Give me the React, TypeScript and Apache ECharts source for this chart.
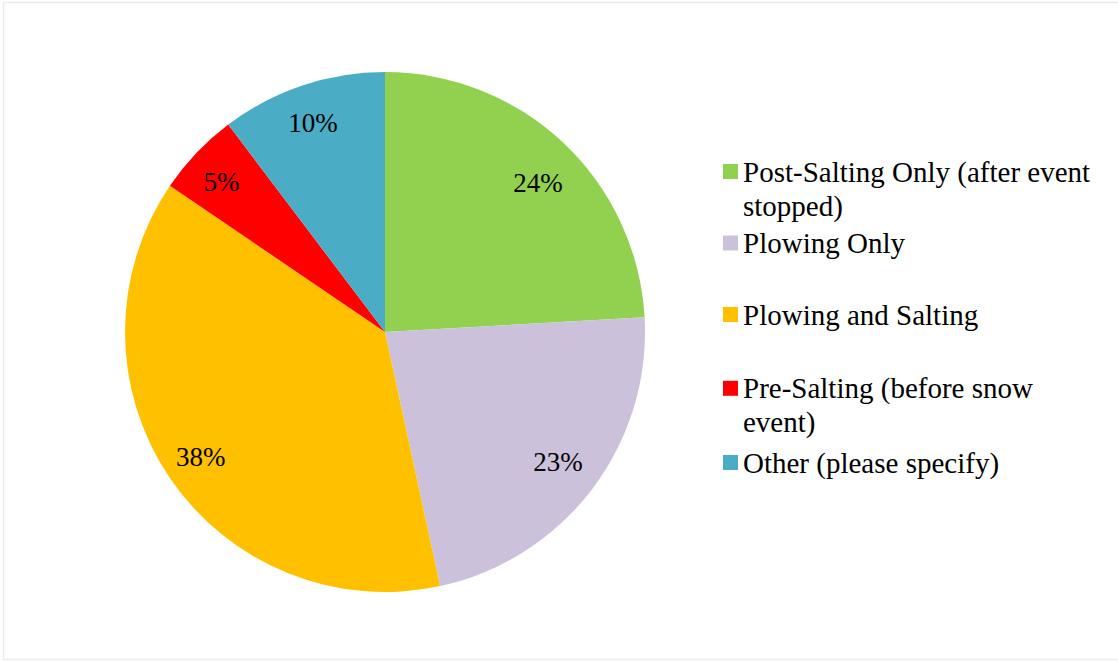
import React, { useEffect, useRef } from "react";
import * as echarts from "echarts";

const categories = [
  "Post-Salting Only (after event stopped)",
  "Plowing Only",
  "Plowing and Salting",
  "Pre-Salting (before snow event)",
  "Other (please specify)",
];
// legend text as wrapped in the reference (a blank first line keeps the marker on the first text line)
const legendLabels = [
  " \nPost-Salting Only (after event\nstopped)",
  "Plowing Only",
  "Plowing and Salting",
  " \nPre-Salting (before snow\nevent)",
  "Other (please specify)",
];
// slice shares in percent
const values = [24.1, 22.5, 37.9, 5.2, 10.3];
const colors = ["#92D050", "#CCC1DA", "#FFC000", "#FF0000", "#4BACC6"];
const legendTops = [120.5, 226, 297.5, 337.3, 445.5];
const labelOffsets = [
  [2, 11],
  [-2, -3],
  [-2, 2],
  [-4, 2],
  [-2, 0],
];

const FONT = "'Liberation Serif', 'Times New Roman', serif";

export default function App() {
  const ref = useRef<HTMLDivElement>(null);
  useEffect(() => {
    if (!ref.current) return;
    const chart = echarts.init(ref.current, undefined, { renderer: "svg" });
    const data = categories.map((name, i) => ({
      name,
      value: values[i],
      itemStyle: { color: colors[i] },
    }));
    const legends = categories.map((name, i) => ({
      orient: "vertical",
      left: 723,
      top: legendTops[i],
      padding: 0,
      itemWidth: 15,
      itemHeight: 15,
      icon: "rect",
      selectedMode: false,
      data: [name],
      formatter: () => legendLabels[i],
      textStyle: {
        fontFamily: FONT,
        fontSize: 29,
        color: "#000",
        lineHeight: 34,
      },
    }));
    chart.setOption({
      animation: false,
      backgroundColor: "#fff",
      legend: legends,
      graphic: [
        {
          type: "rect",
          shape: { x: 3.5, y: 2.5, width: 1130, height: 657 },
          style: { fill: "none", stroke: "#ececec", lineWidth: 1.5 },
          silent: true,
        },
      ],
      series: [
        {
          type: "pie",
          center: [385, 332],
          radius: [0, 260],
          startAngle: 90,
          clockwise: true,
          label: { show: false },
          labelLine: { show: false },
          emphasis: { disabled: true },
          itemStyle: { borderWidth: 0 },
          data,
        },
        {
          type: "pie",
          center: [385, 332],
          radius: [174, 260],
          startAngle: 90,
          clockwise: true,
          silent: true,
          percentPrecision: 0,
          emphasis: { disabled: true },
          itemStyle: { color: "rgba(0,0,0,0)", borderWidth: 0 },
          label: {
            show: true,
            position: "inside",
            formatter: "{d}%",
            fontFamily: FONT,
            fontSize: 27,
            color: "#000",
          },
          labelLine: { show: false },
          data: categories.map((name, i) => ({
            name,
            value: values[i],
            itemStyle: { color: "rgba(0,0,0,0)" },
            label: { offset: labelOffsets[i] },
          })),
        },
      ],
    });
    return () => chart.dispose();
  }, []);
  return (
    <div
      ref={ref}
      style={{ position: "fixed", left: 0, top: 0, width: 1118, height: 661 }}
    />
  );
}
